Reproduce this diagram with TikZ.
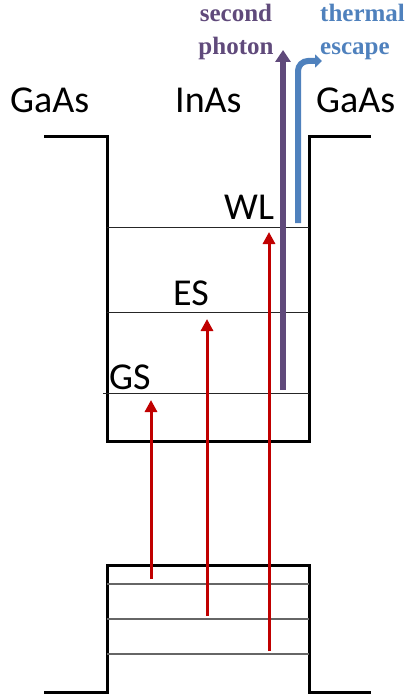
\documentclass[tikz,border=0pt]{standalone}
\usepackage{fontspec}
\setmainfont{Liberation Serif}
\newfontfamily\labelfont{Carlito}
\usetikzlibrary{arrows.meta}
\definecolor{exred}{RGB}{192,0,0}
\definecolor{photonpurple}{RGB}{96,74,123}
\definecolor{escapeblue}{RGB}{79,129,189}
\tikzset{
  band/.style={line width=3pt, black, line join=miter},
  cblevel/.style={line width=1pt, black!85},
  vblevel/.style={line width=1.5pt, black!60},
  excite/.style={line width=3pt, exred, -{Triangle[length=12pt,width=12pt]}},
  photonarrow/.style={line width=5.5pt, photonpurple, -{Triangle[length=12pt,width=15pt]}},
  escapearrow/.style={line width=6pt, escapeblue, rounded corners=10pt, -{Triangle[length=7pt,width=13pt]}},
  matlabel/.style={font=\labelfont\fontsize{38}{42}\selectfont, inner sep=0pt, anchor=base west},
  notelabel/.style={font=\bfseries\fontsize{25}{30}\selectfont, inner sep=0pt},
}
\begin{document}
\begin{tikzpicture}[x=1pt, y=-1pt]
\useasboundingbox (0,0) rectangle (408,698);

% conduction band well
\draw[band] (44,136) -- (107,136) -- (107,441) -- (309,441) -- (309,136) -- (371,136);
% valence band
\draw[band] (44,692) -- (107,692) -- (107,565) -- (309,565) -- (309,692) -- (371,692);

% confined levels in the conduction band
\draw[cblevel] (107,227) -- (309,227);
\draw[cblevel] (107,312) -- (309,312);
\draw[cblevel] (103,393) -- (309,393);

% valence levels
\draw[vblevel] (107,584) -- (309,584);
\draw[vblevel] (107,619) -- (309,619);
\draw[vblevel] (107,654) -- (309,654);

% material labels
\node[matlabel] (gaasL) at (10,113) {GaAs};
\node[matlabel] (inas) at (175,113) {InAs};
\node[matlabel] (gaasR) at (316,113) {GaAs};

% level labels
\node[matlabel] (wl) at (224,219) {WL};
\node[matlabel] (es) at (173,305) {ES};
\node[matlabel] (gs) at (109,389) {GS};

% interband excitation end points
\coordinate (v1) at (151,579);
\coordinate (v2) at (207,616);
\coordinate (v3) at (269,651);
\coordinate (c1) at (151,400);
\coordinate (c2) at (207,319);
\coordinate (c3) at (269,232);
\draw[excite] (v1) -- (c1);
\draw[excite] (v2) -- (c2);
\draw[excite] (v3) -- (c3);

% second photon absorption and thermal escape
\coordinate (pstart) at (283,390);
\coordinate (pend) at (283,50);
\draw[photonarrow] (pstart) -- (pend);

\coordinate (tstart) at (298,223);
\coordinate (tcorner) at (298,61);
\coordinate (tend) at (322,61);
\draw[escapearrow] (tstart) -- (tcorner) -- (tend);

\node[notelabel, photonpurple, anchor=base] (second) at (236,22) {second};
\node[notelabel, photonpurple, anchor=base] (photon) at (236,55) {photon};
\node[notelabel, escapeblue, anchor=base west] (thermal) at (320,22) {thermal};
\node[notelabel, escapeblue, anchor=base west] (escape) at (320,55) {escape};
\end{tikzpicture}
\end{document}
